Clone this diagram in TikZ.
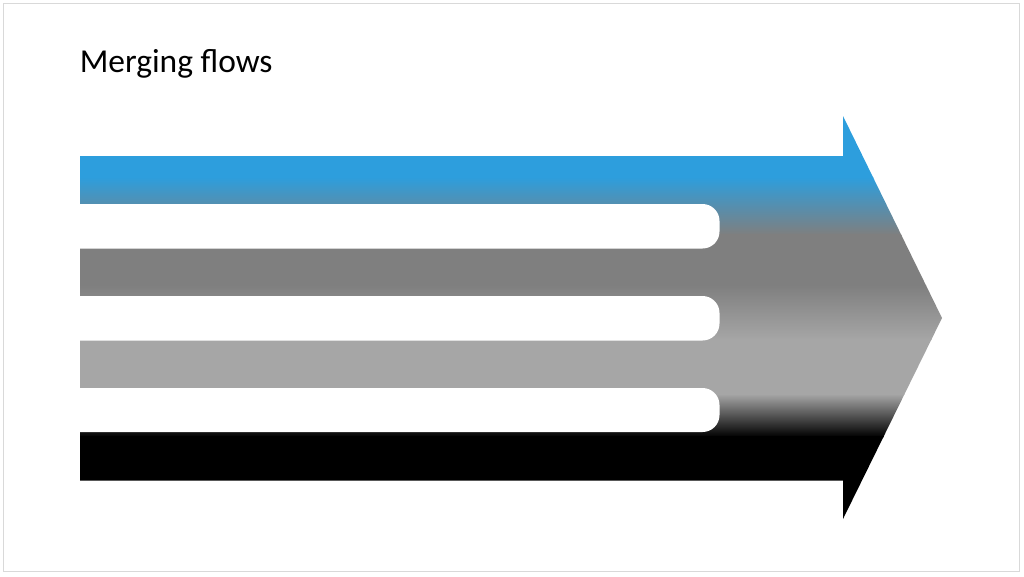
\documentclass[tikz,border=0pt]{standalone}
\usepackage{fontspec}
\setmainfont{Carlito}
\usetikzlibrary{calc}
\definecolor{FlowBlue}{RGB}{45,158,221}
\definecolor{FlowGray}{RGB}{127,127,127}
\definecolor{FlowLight}{RGB}{166,166,166}
\definecolor{FrameGray}{RGB}{217,217,217}

\begin{document}
\begin{tikzpicture}
  [x=0.75pt,y=-0.75pt,
   band/.style={draw=none},
   slot/.style={fill=white,draw=none,rounded corners=12.75pt},
   every node/.style={inner sep=0pt,font=\fontsize{25.1}{30}\selectfont}]
  \useasboundingbox (0,0) rectangle (1024,576);
  \draw[FrameGray,line width=0.75pt] (3.5,3.5) rectangle (1019.5,571.5);

  \node (title) [anchor=base west] at (79.5,72.5) {Merging flows};

  % outline of the big arrow
  \coordinate (shafttop) at (80,156);
  \coordinate (neck1) at (843,156);
  \coordinate (barb1) at (843,116);
  \coordinate (tip) at (942,318);
  \coordinate (barb2) at (843,519);
  \coordinate (neck2) at (843,480.5);
  \coordinate (shaftbot) at (80,480.5);

  \begin{scope}
    \clip (shafttop) -- (neck1) -- (barb1) -- (tip) -- (barb2) -- (neck2) -- (shaftbot) -- cycle;
    \fill[band,FlowBlue] (60,100) rectangle (960,178);
    \shade[band,top color=FlowBlue,bottom color=FlowGray] (60,177) rectangle (960,235);
    \fill[band,FlowGray] (60,234) rectangle (960,286);
    \shade[band,top color=FlowGray,bottom color=FlowLight] (60,285) rectangle (960,340);
    \fill[band,FlowLight] (60,339) rectangle (960,395);
    \shade[band,top color=FlowLight,bottom color=black] (60,394) rectangle (960,437);
    \fill[band,black] (60,436) rectangle (960,530);
    % white gaps between the flows
    \foreach \ya/\yb in {204/248.5, 296/340.5, 388/432}
      \fill[slot] (40,\ya) rectangle (719.5,\yb);
  \end{scope}
\end{tikzpicture}
\end{document}
